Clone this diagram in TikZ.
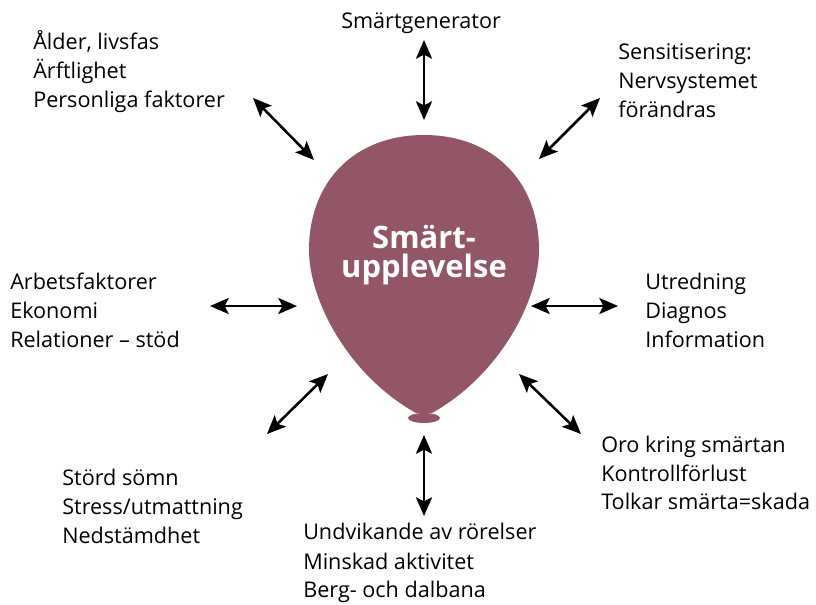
\documentclass[tikz,border=0pt]{standalone}
\usepackage{fontspec}
\setmainfont{Open Sans}
\usetikzlibrary{arrows.meta}
\definecolor{balloon}{HTML}{935667}
\tikzset{
  lbl/.style={anchor=base west, inner sep=0pt, font=\fontsize{16.2}{19}\selectfont, text=black},
  ttl/.style={anchor=base, inner sep=0pt, font=\fontsize{23.2}{26}\selectfont\bfseries, text=white},
  tip/.style={Stealth[length=14pt,width=12pt,inset=3pt]},
  dbl/.style={{Stealth[length=14pt,width=12pt,inset=3pt]}-{Stealth[length=14pt,width=12pt,inset=3pt]}, line width=1.9pt}
}
\begin{document}
\begin{tikzpicture}[x=0.75pt,y=-0.75pt]
\useasboundingbox (0,0) rectangle (816,604);
% balloon
\fill[balloon] (424,135) .. controls (493,135) and (539,181) .. (539,250)
  .. controls (539,300) and (500,375) .. (432,413)
  -- (416,413)
  .. controls (348,375) and (309,300) .. (309,250)
  .. controls (309,181) and (355,135) .. (424,135) -- cycle;
\fill[balloon] (424,418) ellipse [x radius=16, y radius=5];
\node[ttl] (t1) at (424,248) {Smärt-};
\node[ttl] (t2) at (424,277) {upplevelse};
% labels
\node[lbl] (top1) at (341,28) {Smärtgenerator};
\node[lbl] (tl1) at (33,49) {Ålder, livsfas};
\node[lbl] (tl2) at (33,78) {Ärftlighet};
\node[lbl] (tl3) at (33,107) {Personliga faktorer};
\node[lbl] (tr1) at (618,59) {Sensitisering:};
\node[lbl] (tr2) at (618,88) {Nervsystemet};
\node[lbl] (tr3) at (618,117) {förändras};
\node[lbl] (l1) at (10,289) {Arbetsfaktorer};
\node[lbl] (l2) at (10,318) {Ekonomi};
\node[lbl] (l3) at (10,347) {Relationer – stöd};
\node[lbl] (r1) at (645,289) {Utredning};
\node[lbl] (r2) at (645,318) {Diagnos};
\node[lbl] (r3) at (645,347) {Information};
\node[lbl] (bl1) at (62,485) {Störd sömn};
\node[lbl] (bl2) at (62,514) {Stress/utmattning};
\node[lbl] (bl3) at (62,543) {Nedstämdhet};
\node[lbl] (br1) at (601,452) {Oro kring smärtan};
\node[lbl] (br2) at (601,481) {Kontrollförlust};
\node[lbl] (br3) at (601,509) {Tolkar smärta=skada};
\node[lbl] (b1) at (303,539) {Undvikande av rörelser};
\node[lbl] (b2) at (303,569) {Minskad aktivitet};
\node[lbl] (b3) at (303,597) {Berg- och dalbana};
% arrow ends
\coordinate (aT1) at (424,40);  \coordinate (aT2) at (424,120);
\coordinate (aTL1) at (253,98); \coordinate (aTL2) at (314,160);
\coordinate (aTR1) at (600,98); \coordinate (aTR2) at (539,159);
\coordinate (aL1) at (210,306); \coordinate (aL2) at (297,306);
\coordinate (aR1) at (618,306); \coordinate (aR2) at (531,306);
\coordinate (aBL1) at (267,434); \coordinate (aBL2) at (328,374);
\coordinate (aBR1) at (581,434); \coordinate (aBR2) at (519,374);
\coordinate (aB1) at (424,516); \coordinate (aB2) at (424,435);
\draw[dbl] (aT1) -- (aT2);
\draw[dbl] (aTL1) -- (aTL2);
\draw[dbl] (aTR1) -- (aTR2);
\draw[dbl] (aL1) -- (aL2);
\draw[dbl] (aR1) -- (aR2);
\draw[dbl] (aBL1) -- (aBL2);
\draw[dbl] (aBR1) -- (aBR2);
\draw[dbl] (aB1) -- (aB2);
\end{tikzpicture}
\end{document}
